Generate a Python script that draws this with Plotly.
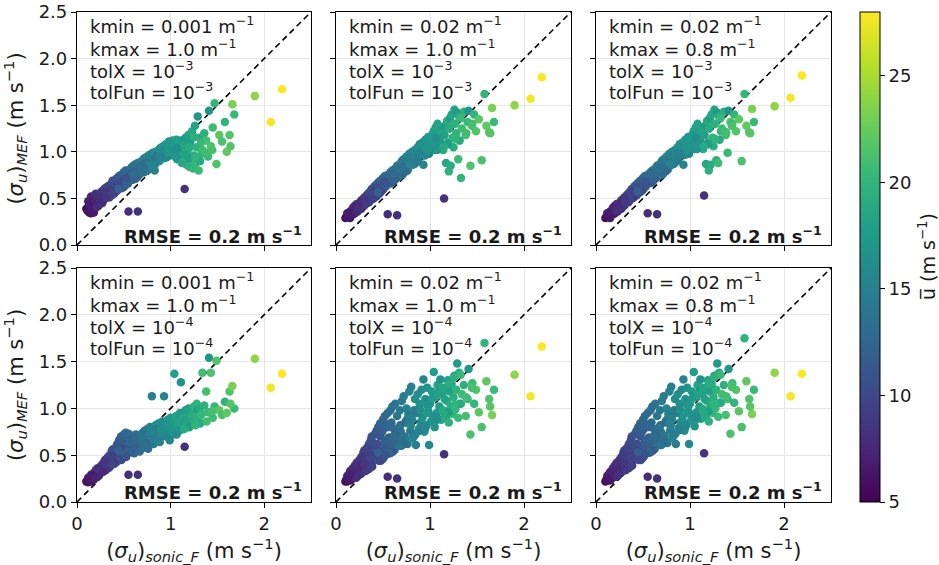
import plotly.graph_objects as go

# Sonic (filtered) standard deviation of u, shared by every panel (m s-1)
sonic = [0.10, 0.11, 0.12, 0.12, 0.13, 0.14, 0.15, 0.15, 0.16, 0.17,
         0.18, 0.18, 0.19, 0.20, 0.20, 0.21, 0.22, 0.22, 0.23, 0.24,
         0.25, 0.25, 0.26, 0.27, 0.27, 0.28, 0.29, 0.30, 0.30, 0.31,
         0.32, 0.33, 0.33, 0.34, 0.35, 0.35, 0.36, 0.37, 0.38, 0.38,
         0.39, 0.40, 0.40, 0.41, 0.42, 0.43, 0.43, 0.44, 0.45, 0.46,
         0.47, 0.47, 0.48, 0.49, 0.50, 0.50, 0.51, 0.52, 0.53, 0.54,
         0.55, 0.55, 0.56, 0.57, 0.58, 0.58, 0.59, 0.60, 0.61, 0.62,
         0.63, 0.64, 0.65, 0.65, 0.66, 0.67, 0.68, 0.69, 0.70, 0.71,
         0.72, 0.73, 0.74, 0.75, 0.76, 0.77, 0.78, 0.79, 0.80, 0.81,
         0.82, 0.83, 0.84, 0.85, 0.86, 0.87, 0.88, 0.89, 0.90, 0.91,
         0.92, 0.93, 0.94, 0.95, 0.96, 0.97, 0.98, 0.99, 1.00, 1.01,
         1.02, 1.03, 1.04, 1.05, 1.06, 1.07, 1.08, 1.10, 1.11, 1.12,
         1.13, 1.14, 1.15, 1.16, 1.17, 1.18, 1.19, 1.20, 1.21, 1.22,
         1.23, 1.24, 1.25, 1.26, 1.27, 1.28, 1.29, 1.30, 1.31, 1.33,
         1.34, 1.36, 1.38, 1.40, 1.41, 1.43, 1.45, 1.47, 1.49, 1.52,
         1.55, 1.58, 1.60, 1.63, 1.66, 1.68, 1.90, 2.07, 2.19, 1.64,
         0.155, 0.215, 0.285, 0.345, 0.415, 0.475, 0.535, 0.595, 0.655, 0.715,
         0.195, 0.265, 0.325, 0.385, 0.445, 0.505, 0.565, 0.625, 0.685, 0.745,
         0.235, 0.305, 0.365, 0.435, 0.495, 0.555, 0.615, 0.675, 0.735, 0.795,
         0.275, 0.355, 0.425, 0.485, 0.545, 0.605, 0.665, 0.725, 0.785, 0.845,
         0.315, 0.395, 0.455, 0.515, 0.575, 0.635, 0.695, 0.755, 0.815, 0.875,
         0.375, 0.465, 0.525, 0.585, 0.645, 0.705, 0.765, 0.825, 0.885, 0.945,
         0.565, 0.625, 0.685, 0.745, 0.805, 0.865, 0.925, 0.985, 1.045, 1.105,
         0.775, 0.835, 0.895, 0.955, 1.015, 1.075, 1.135, 1.195, 1.255, 1.315,
         0.905, 0.965, 1.025, 1.085, 1.145, 1.205, 1.265, 1.325, 1.385, 1.445,
         0.305, 0.445, 0.525, 0.615, 0.705, 0.795, 0.885, 0.975, 1.065, 1.155]

# Mean wind speed used for colouring (m s-1)
ubar = [5.8, 6.2, 6.0, 6.9, 6.4, 7.1, 6.3, 7.4, 6.8, 7.0,
        6.6, 7.6, 7.2, 6.9, 8.0, 7.5, 7.8, 8.3, 7.1, 8.1,
        8.6, 7.7, 8.2, 8.9, 7.4, 8.5, 9.1, 8.0, 9.4, 8.7,
        9.2, 8.4, 9.8, 9.0, 10.1, 8.8, 9.6, 10.4, 9.3, 10.8,
        9.9, 10.5, 9.1, 11.0, 10.2, 9.7, 11.3, 10.7, 11.8, 10.0,
        11.2, 12.0, 10.6, 11.6, 12.4, 10.9, 11.9, 12.7, 11.4, 12.2,
        8.0, 12.9, 11.7, 12.5, 13.2, 11.9, 12.8, 13.5, 12.1, 13.0,
        13.7, 12.6, 8.2, 14.0, 13.3, 12.9, 14.2, 13.6, 14.5, 13.1,
        14.8, 13.9, 14.4, 15.1, 13.5, 14.7, 15.4, 14.1, 15.0, 15.7,
        14.3, 15.3, 16.0, 14.9, 15.6, 16.3, 15.2, 16.6, 15.8, 16.1,
        16.8, 15.5, 16.4, 17.0, 16.0, 16.7, 17.3, 15.9, 17.1, 16.5,
        17.5, 16.2, 17.8, 16.9, 18.1, 17.4, 18.4, 17.7, 16.6, 18.6,
        18.0, 19.0, 8.3, 17.6, 18.8, 19.3, 18.3, 19.6, 17.9, 19.1,
        18.7, 20.0, 19.4, 18.2, 20.3, 19.8, 17.3, 20.6, 19.0, 20.1,
        20.8, 19.5, 21.1, 20.4, 17.0, 21.4, 20.7, 20.0, 21.7, 22.0,
        21.3, 19.9, 22.2, 21.6, 23.3, 20.5, 24.0, 27.6, 28.0, 21.8,
        6.7, 7.9, 8.1, 9.6, 10.3, 10.2, 12.1, 12.3, 13.8, 13.2,
        7.3, 8.4, 9.5, 9.2, 10.8, 11.5, 11.2, 13.4, 12.8, 14.6,
        8.2, 8.6, 9.9, 10.0, 11.8, 11.6, 13.1, 12.7, 14.9, 14.0,
        7.6, 9.4, 10.6, 10.4, 12.4, 12.0, 13.9, 13.3, 15.2, 14.5,
        8.9, 9.1, 11.1, 11.0, 12.9, 12.5, 14.3, 13.8, 15.6, 15.0,
        9.7, 10.1, 12.0, 11.3, 13.5, 12.8, 14.9, 14.2, 16.2, 15.4,
        12.6, 12.2, 13.7, 13.0, 15.3, 14.4, 16.5, 15.6, 17.6, 16.8,
        14.6, 14.8, 16.4, 15.7, 17.4, 16.9, 18.5, 17.9, 19.5, 18.8,
        15.8, 16.9, 17.0, 18.2, 18.9, 19.2, 19.9, 20.4, 20.9, 21.2,
        8.7, 11.9, 10.9, 13.0, 13.4, 15.3, 15.1, 16.9, 16.3, 18.1]

# MEF estimates of sigma_u for each fitting configuration (m s-1)
mef_k001_k10_tol3 = [0.39, 0.37, 0.41, 0.47, 0.35, 0.44, 0.34, 0.52, 0.38, 0.43,
                     0.35, 0.50, 0.46, 0.40, 0.55, 0.45, 0.49, 0.54, 0.42, 0.51,
                     0.56, 0.47, 0.52, 0.58, 0.45, 0.53, 0.59, 0.50, 0.61, 0.55,
                     0.60, 0.52, 0.63, 0.57, 0.64, 0.54, 0.60, 0.66, 0.58, 0.69,
                     0.62, 0.66, 0.57, 0.70, 0.64, 0.60, 0.72, 0.67, 0.74, 0.63,
                     0.70, 0.75, 0.65, 0.72, 0.78, 0.67, 0.74, 0.80, 0.70, 0.76,
                     0.36, 0.80, 0.73, 0.78, 0.83, 0.74, 0.80, 0.85, 0.76, 0.82,
                     0.87, 0.79, 0.36, 0.88, 0.83, 0.80, 0.89, 0.85, 0.91, 0.84,
                     0.93, 0.86, 0.90, 0.95, 0.84, 0.92, 0.97, 0.88, 0.94, 0.99,
                     0.90, 0.80, 1.00, 0.93, 0.97, 1.02, 0.95, 1.04, 0.99, 1.01,
                     1.06, 0.97, 1.03, 1.08, 1.00, 1.05, 1.11, 0.96, 1.09, 1.02,
                     1.12, 1.04, 1.10, 0.95, 1.13, 0.92, 1.08, 1.00, 0.98, 0.88,
                     1.07, 0.94, 0.60, 1.15, 0.86, 1.00, 1.18, 0.84, 1.10, 0.92,
                     1.22, 0.82, 0.96, 1.28, 0.88, 1.05, 1.38, 0.80, 1.15, 0.98,
                     1.02, 1.20, 1.12, 0.95, 1.44, 1.06, 1.26, 1.52, 0.87, 1.18,
                     1.11, 1.32, 1.00, 1.18, 1.51, 1.40, 1.60, 1.32, 1.67, 1.06,
                     0.46, 0.41, 0.55, 0.51, 0.65, 0.61, 0.73, 0.70, 0.82, 0.78,
                     0.48, 0.45, 0.57, 0.55, 0.67, 0.63, 0.75, 0.72, 0.84, 0.80,
                     0.50, 0.55, 0.53, 0.65, 0.62, 0.75, 0.71, 0.83, 0.80, 0.91,
                     0.47, 0.59, 0.58, 0.69, 0.66, 0.78, 0.75, 0.86, 0.84, 0.95,
                     0.56, 0.55, 0.66, 0.64, 0.75, 0.73, 0.84, 0.81, 0.92, 0.90,
                     0.54, 0.66, 0.65, 0.76, 0.73, 0.85, 0.82, 0.93, 0.91, 1.02,
                     0.74, 0.71, 0.82, 0.88, 0.85, 0.96, 0.93, 1.05, 1.08, 1.12,
                     0.89, 0.87, 0.98, 0.94, 1.04, 0.96, 1.08, 0.93, 1.16, 0.90,
                     0.96, 1.05, 0.99, 1.10, 0.98, 1.05, 0.94, 1.10, 0.99, 1.02,
                     0.51, 0.60, 0.72, 0.77, 0.80, 0.86, 0.94, 0.99, 1.04, 0.97]
mef_k02_k10_tol3 = [0.29, 0.30, 0.31, 0.34, 0.30, 0.33, 0.29, 0.36, 0.32, 0.35,
                    0.33, 0.40, 0.37, 0.34, 0.42, 0.38, 0.40, 0.44, 0.36, 0.41,
                    0.45, 0.40, 0.43, 0.48, 0.39, 0.44, 0.49, 0.42, 0.51, 0.46,
                    0.50, 0.45, 0.54, 0.48, 0.56, 0.46, 0.52, 0.58, 0.49, 0.60,
                    0.55, 0.59, 0.50, 0.63, 0.56, 0.52, 0.65, 0.60, 0.67, 0.55,
                    0.64, 0.69, 0.58, 0.66, 0.72, 0.60, 0.68, 0.74, 0.63, 0.70,
                    0.33, 0.75, 0.66, 0.72, 0.78, 0.67, 0.74, 0.80, 0.69, 0.77,
                    0.82, 0.72, 0.32, 0.85, 0.78, 0.73, 0.87, 0.80, 0.90, 0.76,
                    0.92, 0.83, 0.88, 0.95, 0.80, 0.90, 0.98, 0.85, 0.93, 1.00,
                    0.88, 0.96, 1.02, 0.91, 0.99, 1.05, 0.94, 1.08, 0.97, 1.03,
                    1.10, 0.86, 1.05, 1.13, 1.00, 1.08, 1.16, 0.98, 1.12, 1.04,
                    1.18, 1.06, 1.22, 1.02, 1.26, 1.10, 1.30, 1.15, 1.08, 1.20,
                    1.24, 1.02, 0.50, 1.28, 0.88, 1.33, 1.10, 0.79, 1.36, 0.85,
                    1.40, 1.15, 1.05, 1.45, 1.30, 1.20, 1.42, 0.92, 1.38, 0.72,
                    1.25, 1.43, 1.18, 1.32, 1.44, 0.85, 1.30, 1.40, 1.22, 1.35,
                    0.91, 1.62, 1.28, 1.21, 1.47, 1.32, 1.50, 1.57, 1.80, 1.20,
                    0.35, 0.36, 0.47, 0.46, 0.59, 0.57, 0.69, 0.67, 0.80, 0.77,
                    0.40, 0.41, 0.52, 0.50, 0.62, 0.60, 0.72, 0.70, 0.83, 0.80,
                    0.38, 0.49, 0.48, 0.61, 0.59, 0.71, 0.69, 0.81, 0.79, 0.92,
                    0.46, 0.47, 0.60, 0.58, 0.70, 0.68, 0.81, 0.78, 0.91, 0.88,
                    0.44, 0.57, 0.56, 0.68, 0.66, 0.78, 0.76, 0.88, 0.86, 0.98,
                    0.55, 0.57, 0.69, 0.67, 0.79, 0.77, 0.89, 0.87, 0.99, 0.96,
                    0.72, 0.70, 0.82, 0.80, 0.92, 0.90, 1.03, 1.00, 1.13, 1.10,
                    0.90, 0.87, 1.00, 0.97, 1.10, 1.02, 1.20, 1.08, 1.30, 1.12,
                    0.98, 1.05, 1.08, 1.16, 1.05, 1.25, 1.14, 1.36, 1.20, 1.28,
                    0.49, 0.57, 0.67, 0.75, 0.84, 0.86, 0.99, 1.02, 1.15, 1.18]
mef_k02_k08_tol3 = [0.29, 0.30, 0.31, 0.34, 0.31, 0.33, 0.29, 0.36, 0.32, 0.35,
                    0.33, 0.40, 0.38, 0.34, 0.42, 0.38, 0.41, 0.44, 0.36, 0.41,
                    0.45, 0.41, 0.43, 0.48, 0.39, 0.45, 0.49, 0.42, 0.51, 0.46,
                    0.50, 0.46, 0.54, 0.48, 0.56, 0.47, 0.52, 0.58, 0.50, 0.60,
                    0.56, 0.59, 0.51, 0.63, 0.56, 0.53, 0.65, 0.60, 0.67, 0.56,
                    0.64, 0.69, 0.59, 0.66, 0.72, 0.61, 0.68, 0.74, 0.63, 0.70,
                    0.34, 0.75, 0.66, 0.72, 0.78, 0.68, 0.74, 0.80, 0.69, 0.77,
                    0.82, 0.72, 0.33, 0.85, 0.78, 0.74, 0.87, 0.80, 0.90, 0.76,
                    0.92, 0.84, 0.88, 0.95, 0.81, 0.90, 0.98, 0.85, 0.93, 1.00,
                    0.88, 0.96, 1.02, 0.92, 0.99, 1.05, 0.94, 1.08, 0.97, 1.03,
                    1.10, 0.86, 1.05, 1.13, 1.01, 1.08, 1.16, 0.98, 1.12, 1.04,
                    1.18, 1.06, 1.22, 1.03, 1.26, 1.10, 1.30, 1.15, 1.08, 1.20,
                    1.24, 1.03, 0.53, 1.28, 0.87, 1.33, 1.10, 0.80, 1.36, 0.86,
                    1.40, 1.15, 1.06, 1.45, 1.30, 0.91, 1.42, 0.88, 1.38, 1.22,
                    1.25, 1.43, 1.18, 0.99, 1.44, 1.32, 1.30, 1.40, 1.22, 1.35,
                    0.90, 1.62, 1.28, 1.21, 1.46, 1.32, 1.49, 1.58, 1.82, 1.20,
                    0.35, 0.37, 0.47, 0.46, 0.59, 0.58, 0.69, 0.67, 0.80, 0.78,
                    0.40, 0.41, 0.52, 0.51, 0.62, 0.60, 0.72, 0.71, 0.83, 0.80,
                    0.38, 0.49, 0.49, 0.61, 0.59, 0.71, 0.70, 0.81, 0.79, 0.92,
                    0.46, 0.48, 0.60, 0.58, 0.70, 0.69, 0.81, 0.78, 0.91, 0.89,
                    0.45, 0.57, 0.56, 0.68, 0.67, 0.78, 0.76, 0.88, 0.87, 0.98,
                    0.55, 0.58, 0.69, 0.67, 0.79, 0.78, 0.89, 0.87, 0.99, 0.97,
                    0.72, 0.71, 0.82, 0.80, 0.92, 0.91, 1.03, 1.00, 1.13, 1.11,
                    0.90, 0.88, 1.00, 0.97, 1.10, 1.03, 1.20, 1.08, 1.30, 1.13,
                    0.98, 1.06, 1.08, 1.16, 1.06, 1.25, 1.14, 1.36, 1.21, 1.28,
                    0.49, 0.58, 0.67, 0.75, 0.84, 0.87, 0.99, 1.02, 1.15, 1.18]
mef_k001_k10_tol4 = [0.22, 0.23, 0.21, 0.26, 0.24, 0.27, 0.22, 0.29, 0.25, 0.28,
                     0.24, 0.31, 0.29, 0.27, 0.34, 0.30, 0.33, 0.36, 0.28, 0.34,
                     0.38, 0.31, 0.35, 0.40, 0.33, 0.37, 0.43, 0.34, 0.45, 0.39,
                     0.44, 0.36, 0.48, 0.40, 0.50, 0.38, 0.46, 0.54, 0.42, 0.56,
                     0.47, 0.52, 0.41, 0.58, 0.49, 0.44, 0.62, 0.53, 0.66, 0.46,
                     0.60, 0.70, 0.48, 0.63, 0.72, 0.50, 0.66, 0.74, 0.54, 0.68,
                     0.29, 0.73, 0.55, 0.66, 0.71, 0.57, 0.64, 0.70, 0.52, 0.62,
                     0.72, 0.56, 0.29, 0.68, 0.60, 0.54, 0.70, 0.62, 0.74, 0.58,
                     0.76, 0.60, 0.66, 0.78, 0.57, 0.70, 0.80, 0.63, 1.13, 0.74,
                     0.62, 0.72, 0.82, 0.66, 0.76, 0.84, 0.68, 0.78, 0.72, 0.86,
                     0.80, 1.13, 0.74, 0.84, 0.70, 0.88, 0.78, 0.66, 0.90, 0.76,
                     0.82, 0.72, 1.37, 0.80, 0.92, 0.76, 0.86, 0.95, 1.28, 0.84,
                     0.78, 0.90, 0.59, 0.98, 0.82, 0.88, 1.00, 0.80, 0.94, 0.86,
                     0.96, 0.84, 1.02, 0.92, 0.88, 1.05, 0.98, 0.90, 1.00, 0.94,
                     1.38, 1.03, 1.18, 0.96, 1.54, 1.38, 0.90, 1.02, 1.51, 0.98,
                     0.93, 1.07, 0.95, 1.18, 1.24, 1.00, 1.53, 1.22, 1.37, 1.05,
                     0.28, 0.27, 0.40, 0.37, 0.52, 0.45, 0.62, 0.58, 0.71, 0.62,
                     0.26, 0.38, 0.36, 0.49, 0.46, 0.60, 0.55, 0.70, 0.61, 0.75,
                     0.35, 0.34, 0.47, 0.45, 0.59, 0.53, 0.68, 0.61, 0.73, 0.65,
                     0.32, 0.46, 0.43, 0.57, 0.54, 0.68, 0.60, 0.72, 0.66, 0.78,
                     0.42, 0.42, 0.55, 0.52, 0.65, 0.60, 0.71, 0.64, 0.76, 0.69,
                     0.40, 0.56, 0.53, 0.66, 0.61, 0.72, 0.65, 0.77, 0.70, 0.80,
                     0.64, 0.59, 0.70, 0.63, 0.75, 0.68, 0.79, 0.72, 0.84, 0.77,
                     0.73, 0.67, 0.78, 0.71, 0.83, 0.76, 0.87, 0.80, 0.91, 0.84,
                     0.70, 0.81, 0.74, 0.85, 0.78, 0.89, 0.82, 0.93, 0.86, 0.97,
                     0.44, 0.55, 0.48, 0.67, 0.60, 0.76, 0.64, 0.80, 0.72, 0.88]
mef_k02_k10_tol4 = [0.22, 0.24, 0.22, 0.28, 0.25, 0.30, 0.23, 0.33, 0.27, 0.31,
                    0.25, 0.36, 0.32, 0.28, 0.39, 0.33, 0.37, 0.42, 0.30, 0.40,
                    0.45, 0.34, 0.40, 0.48, 0.33, 0.43, 0.52, 0.38, 0.55, 0.46,
                    0.52, 0.40, 0.58, 0.47, 0.62, 0.42, 0.55, 0.66, 0.46, 0.70,
                    0.52, 0.63, 0.44, 0.72, 0.57, 0.48, 0.76, 0.62, 0.80, 0.50,
                    0.70, 0.84, 0.52, 0.75, 0.88, 0.55, 0.78, 0.92, 0.58, 0.83,
                    0.27, 0.95, 0.62, 0.80, 0.98, 0.60, 0.85, 1.02, 0.66, 0.78,
                    1.05, 0.64, 0.25, 0.92, 0.72, 0.62, 0.98, 0.75, 1.08, 0.68,
                    1.13, 0.70, 0.86, 1.00, 0.62, 0.94, 1.18, 0.76, 1.23, 0.88,
                    0.72, 0.98, 1.10, 0.61, 0.95, 1.15, 0.78, 1.05, 0.85, 1.20,
                    0.90, 1.31, 0.75, 1.10, 0.82, 1.22, 0.98, 0.61, 1.05, 0.86,
                    1.18, 0.92, 1.39, 0.80, 1.12, 0.95, 1.25, 1.02, 1.31, 0.88,
                    1.15, 0.98, 0.51, 1.22, 0.90, 1.08, 1.30, 0.85, 1.18, 1.02,
                    1.26, 0.94, 1.12, 1.35, 0.99, 1.20, 1.48, 0.90, 1.38, 1.05,
                    1.15, 1.25, 0.92, 1.10, 1.42, 0.72, 1.27, 1.05, 1.20, 0.96,
                    0.80, 1.70, 1.29, 1.10, 0.93, 1.20, 1.36, 1.13, 1.66, 1.02,
                    0.26, 0.26, 0.39, 0.35, 0.52, 0.44, 0.66, 0.55, 0.78, 0.62,
                    0.30, 0.30, 0.43, 0.38, 0.57, 0.47, 0.69, 0.56, 0.82, 0.64,
                    0.28, 0.41, 0.37, 0.55, 0.46, 0.68, 0.55, 0.80, 0.64, 0.92,
                    0.37, 0.36, 0.53, 0.45, 0.66, 0.54, 0.79, 0.63, 0.90, 0.72,
                    0.33, 0.50, 0.44, 0.63, 0.52, 0.76, 0.60, 0.88, 0.68, 0.98,
                    0.47, 0.45, 0.64, 0.53, 0.77, 0.61, 0.89, 0.70, 1.00, 0.78,
                    0.52, 0.72, 0.60, 0.85, 0.68, 0.97, 0.78, 1.08, 0.87, 1.20,
                    0.84, 0.72, 0.98, 0.80, 1.10, 0.88, 1.22, 0.96, 1.33, 1.05,
                    0.78, 1.04, 0.86, 1.15, 0.95, 1.26, 1.04, 1.36, 1.12, 1.22,
                    0.40, 0.53, 0.50, 0.70, 0.66, 0.82, 0.76, 0.95, 0.90, 1.10]
mef_k02_k08_tol4 = [0.22, 0.24, 0.23, 0.28, 0.25, 0.30, 0.23, 0.32, 0.27, 0.31,
                    0.26, 0.36, 0.32, 0.29, 0.39, 0.33, 0.37, 0.42, 0.31, 0.40,
                    0.45, 0.35, 0.40, 0.48, 0.34, 0.43, 0.52, 0.39, 0.55, 0.46,
                    0.52, 0.41, 0.58, 0.47, 0.62, 0.43, 0.56, 0.66, 0.47, 0.70,
                    0.53, 0.63, 0.45, 0.72, 0.57, 0.49, 0.76, 0.62, 0.80, 0.51,
                    0.70, 0.84, 0.53, 0.75, 0.88, 0.56, 0.78, 0.92, 0.59, 0.83,
                    0.27, 0.95, 0.63, 0.80, 0.98, 0.61, 0.85, 1.02, 0.67, 0.78,
                    1.05, 0.65, 0.25, 0.92, 0.72, 0.63, 0.98, 0.75, 1.08, 0.69,
                    1.13, 0.71, 0.86, 1.00, 0.63, 0.94, 1.18, 0.77, 1.23, 0.88,
                    0.73, 0.98, 1.10, 0.62, 0.95, 1.15, 0.79, 1.05, 0.85, 1.20,
                    0.90, 1.31, 0.76, 1.10, 0.83, 1.22, 0.98, 0.62, 1.05, 0.87,
                    1.18, 0.93, 1.39, 0.81, 1.12, 0.96, 1.25, 1.02, 1.31, 0.89,
                    1.15, 0.99, 0.52, 1.22, 0.91, 1.08, 1.30, 0.86, 1.18, 1.03,
                    1.26, 0.95, 1.12, 1.35, 1.00, 1.20, 1.48, 0.91, 1.38, 1.06,
                    1.15, 1.25, 0.93, 1.10, 1.42, 0.73, 1.27, 1.06, 1.20, 0.97,
                    0.80, 1.75, 1.29, 1.10, 0.94, 1.20, 1.38, 1.13, 1.37, 1.02,
                    0.26, 0.27, 0.39, 0.36, 0.52, 0.45, 0.66, 0.56, 0.78, 0.63,
                    0.30, 0.31, 0.43, 0.39, 0.57, 0.48, 0.69, 0.57, 0.82, 0.65,
                    0.29, 0.41, 0.38, 0.55, 0.47, 0.68, 0.56, 0.80, 0.65, 0.92,
                    0.37, 0.37, 0.53, 0.46, 0.66, 0.55, 0.79, 0.64, 0.90, 0.73,
                    0.34, 0.50, 0.45, 0.63, 0.53, 0.76, 0.61, 0.88, 0.69, 0.98,
                    0.47, 0.46, 0.64, 0.54, 0.77, 0.62, 0.89, 0.71, 1.00, 0.79,
                    0.53, 0.72, 0.61, 0.85, 0.69, 0.97, 0.79, 1.08, 0.88, 1.20,
                    0.85, 0.73, 0.98, 0.81, 1.10, 0.89, 1.22, 0.97, 1.33, 1.06,
                    0.79, 1.04, 0.87, 1.15, 0.96, 1.26, 1.05, 1.36, 1.13, 1.23,
                    0.40, 0.53, 0.51, 0.70, 0.67, 0.82, 0.77, 0.95, 0.91, 1.10]

panel_y = [mef_k001_k10_tol3, mef_k02_k10_tol3, mef_k02_k08_tol3,
           mef_k001_k10_tol4, mef_k02_k10_tol4, mef_k02_k08_tol4]
kmin_labels = ["0.001", "0.02", "0.02", "0.001", "0.02", "0.02"]
kmax_labels = ["1.0", "1.0", "0.8", "1.0", "1.0", "0.8"]
tol_labels = ["3", "3", "3", "4", "4", "4"]

W, H = 939, 565
col_px = [(77, 311), (336, 571), (596, 831)]
row_px = [(12, 245), (268, 502)]
# vertical centres of the four parameter lines, as fractions of each panel
param_line_y = [0.943, 0.845, 0.753, 0.661]

FONT = "DejaVu Sans"
TXT = "#1a1a1a"
fig = go.Figure()

for i in range(6):
    r, c = divmod(i, 3)
    n = i + 1
    xa = "x" if n == 1 else f"x{n}"
    ya = "y" if n == 1 else f"y{n}"
    x0, x1 = col_px[c]
    t0, t1 = row_px[r]
    common = dict(range=[0, 2.5], showline=True, mirror=True, linecolor="black", linewidth=1.2,
                  ticks="outside", ticklen=5, tickwidth=1.2, tickcolor="black",
                  showgrid=True, gridcolor="#e6e6e6", gridwidth=1, zeroline=False,
                  automargin=False, tickfont=dict(family=FONT, size=18, color=TXT))
    fig.layout[f"xaxis{'' if n == 1 else n}"] = dict(
        common, domain=[x0 / W, x1 / W], anchor=ya,
        tickvals=[0, 1, 2], ticktext=["0", "1", "2"], showticklabels=(r == 1),
        title=dict(text="(<i>σ</i><sub><i>u</i></sub>)<sub><i>sonic_F</i></sub> (m s<sup>−1</sup>)",
                   font=dict(family=FONT, size=21, color=TXT)) if r == 1 else None)
    fig.layout[f"yaxis{'' if n == 1 else n}"] = dict(
        common, domain=[1 - t1 / H, 1 - t0 / H], anchor=xa,
        tickvals=[0, 0.5, 1, 1.5, 2, 2.5], tickformat=".1f", showticklabels=(c == 0),
        title=dict(text="(<i>σ</i><sub><i>u</i></sub>)<sub><i>MEF</i></sub> (m s<sup>−1</sup>)",
                   font=dict(family=FONT, size=21, color=TXT)) if c == 0 else None)

    # 1:1 reference line
    fig.add_trace(go.Scatter(x=[0, 2.5], y=[0, 2.5], mode="lines", xaxis=xa, yaxis=ya,
                             line=dict(color="black", width=1.6, dash="6px,4px"),
                             showlegend=False, hoverinfo="skip"))
    fig.add_trace(go.Scatter(
        x=sonic, y=panel_y[i], mode="markers", xaxis=xa, yaxis=ya, showlegend=False,
        marker=dict(size=8.5, color=ubar, colorscale="Viridis", cmin=5, cmax=28,
                    line=dict(width=0), showscale=(i == 0),
                    colorbar=dict(x=860 / W, xanchor="left", xref="paper", xpad=0, ypad=0,
                                  y=1 - 502 / H, yanchor="bottom", len=490 / H, lenmode="fraction",
                                  thickness=20, thicknessmode="pixels",
                                  outlinewidth=1, outlinecolor="black",
                                  ticks="outside", ticklen=5, tickwidth=1.2, tickcolor="black",
                                  tickvals=[5, 10, 15, 20, 25],
                                  tickfont=dict(family=FONT, size=18, color=TXT)))))

    lines = [f"kmin = {kmin_labels[i]} m<sup>−1</sup>",
             f"kmax = {kmax_labels[i]} m<sup>−1</sup>",
             f"tolX = 10<sup>−{tol_labels[i]}</sup>",
             f"tolFun = 10<sup>−{tol_labels[i]}</sup>"]
    for j, txt in enumerate(lines):
        fig.add_annotation(text=txt, xref=f"{xa} domain", yref=f"{ya} domain",
                           x=0.045, y=param_line_y[j], xanchor="left", yanchor="middle",
                           showarrow=False, font=dict(family=FONT, size=18, color=TXT))
    fig.add_annotation(text="<b>RMSE = 0.2 m s<sup>−1</sup></b>", xref=f"{xa} domain", yref=f"{ya} domain",
                       x=0.97, y=0.045, xanchor="right", yanchor="middle", showarrow=False,
                       font=dict(family=FONT, size=18, color=TXT))

# colour bar label
fig.add_annotation(text="u\u0305 (m s<sup>−1</sup>)", xref="paper", yref="paper",
                   x=927 / W, y=1 - 257 / H, textangle=-90, showarrow=False,
                   xanchor="center", yanchor="middle",
                   font=dict(family=FONT, size=19, color=TXT))

fig.update_layout(width=W, height=H, margin=dict(l=0, r=0, t=0, b=0),
                  paper_bgcolor="white", plot_bgcolor="white",
                  font=dict(family=FONT, color=TXT))

fig.write_html("out.html")
